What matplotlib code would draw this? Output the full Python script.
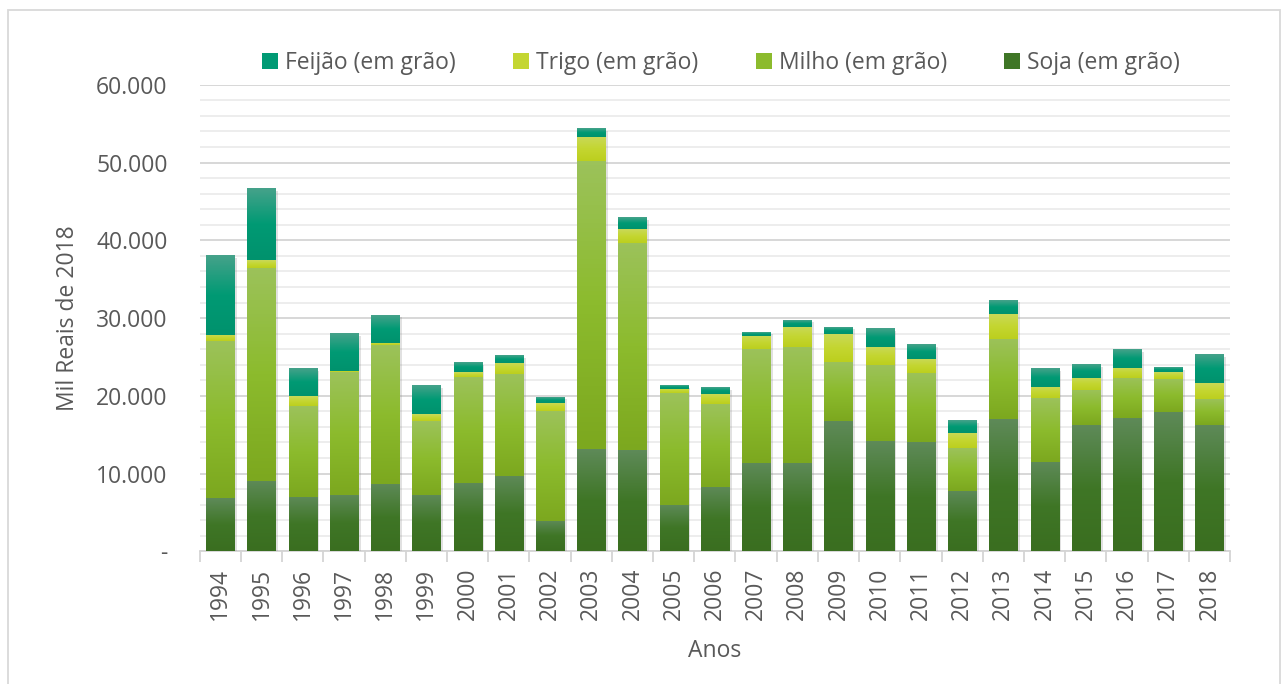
import numpy as np
import matplotlib
matplotlib.use('Agg')
import matplotlib.pyplot as plt
from matplotlib.colors import LinearSegmentedColormap
from matplotlib.patches import Rectangle
import matplotlib.patheffects as pe

plt.rcParams['font.family'] = ['Open Sans', 'DejaVu Sans']

# Data (mil reais de 2018)
anos = [str(a) for a in range(1994, 2019)]
soja = [6800, 9100, 7030, 7300, 8700, 7300, 8840, 9740, 3940, 13100, 12970, 6000, 8320,
        11420, 11420, 16710, 14130, 14000, 7810, 16970, 11550, 16190, 17100, 17870, 16190]
milho = [20230, 27400, 11660, 15700, 17800, 9400, 13550, 13030, 14060, 37160, 26710, 14320, 10580,
         14580, 14840, 7610, 9810, 8900, 5420, 10320, 8130, 4520, 5160, 4260, 3360]
trigo = [800, 1000, 1250, 160, 340, 900, 640, 1420, 1030, 3090, 1800, 520, 1290,
         1680, 2580, 3620, 2320, 1810, 1930, 3230, 1420, 1550, 1290, 900, 2060]
feijao = [10200, 9170, 3480, 4780, 3530, 3620, 1160, 910, 770, 1040, 1420, 390, 780,
          510, 900, 900, 2320, 1810, 1550, 1800, 2320, 1680, 2320, 520, 3620]

series = [
    ('Soja (em grão)', soja, ['#3a6e20', '#3f7626', '#5e8a58']),
    ('Milho (em grão)', milho, ['#7ca81f', '#8cbb2d', '#9cc25a']),
    ('Trigo (em grão)', trigo, ['#bccf1e', '#c4d631', '#c9d95a']),
    ('Feijão (em grão)', feijao, ['#00926d', '#009a74', '#45a28a']),
]

fs = 16.5
txt = '#595959'

fig = plt.figure(figsize=(12.88, 6.84), dpi=100)
ax = fig.add_axes([0.155, 0.194, 0.800, 0.682])

x = np.arange(len(anos))
bottom = np.zeros(len(anos))
handles = []
grad = np.linspace(0, 1, 64).reshape(-1, 1)
for nome, vals, cols in series:
    bars = ax.bar(x, vals, 0.68, bottom=bottom, color=cols[1], zorder=3, linewidth=0)
    cmap = LinearSegmentedColormap.from_list(nome, cols)
    for b in bars:
        # sombra leve + gradiente vertical em cada segmento
        b.set_path_effects([pe.SimplePatchShadow(offset=(2, -1.5), shadow_rgbFace='#888888', alpha=0.25),
                            pe.Normal()])
        x0, y0 = b.get_x(), b.get_y()
        ax.imshow(grad, extent=[x0, x0 + b.get_width(), y0, y0 + b.get_height()],
                  origin='lower', cmap=cmap, aspect='auto', zorder=3.5)
    handles.append(Rectangle((0, 0), 1, 1, facecolor=cols[1], edgecolor='none'))
    bottom += np.array(vals)

ax.set_xlim(-0.48, len(anos) - 0.54)
ax.set_ylim(0, 60000)
ax.set_yticks(np.arange(0, 60001, 10000))
ax.set_yticks(np.arange(0, 60001, 2000), minor=True)
ax.set_yticklabels(['-'] + [f'{v:,}'.replace(',', '.') for v in range(10000, 60001, 10000)])
ax.grid(axis='y', which='major', color='#d4d4d4', linewidth=1.3, zorder=0)
ax.grid(axis='y', which='minor', color='#ececec', linewidth=1.3, zorder=0)
ax.tick_params(axis='y', which='both', length=0, labelsize=fs, labelcolor=txt, pad=23)

ax.set_xticks(x)
ax.set_xticklabels(anos, rotation=90)
ax.set_xticks(np.arange(-0.5, len(anos)), minor=True)
ax.tick_params(axis='x', which='major', length=0, labelsize=fs, labelcolor=txt, pad=12)
ax.tick_params(axis='x', which='minor', length=8, color='#d4d4d4', width=1.3)

for s in ['top', 'right', 'left']:
    ax.spines[s].set_visible(False)
ax.spines['bottom'].set_color('#d4d4d4')
ax.spines['bottom'].set_linewidth(1.3)

ax.set_ylabel('Mil Reais de 2018', fontsize=fs, color=txt, labelpad=12)
ax.set_xlabel('Anos', fontsize=fs, color=txt, labelpad=13)

leg = fig.legend(handles[::-1], [s[0] for s in series][::-1], loc='center', ncol=4,
                 bbox_to_anchor=(0.56, 0.908), frameon=False, fontsize=fs,
                 handlelength=0.7, handleheight=0.7, columnspacing=2.5, handletextpad=0.3)
for t in leg.get_texts():
    t.set_color(txt)

fig.patches.append(Rectangle((0.006, -0.01), 0.988, 0.995, transform=fig.transFigure,
                             fill=False, edgecolor='#d9d9d9', linewidth=1.3))

fig.savefig('out.png', dpi=100)
